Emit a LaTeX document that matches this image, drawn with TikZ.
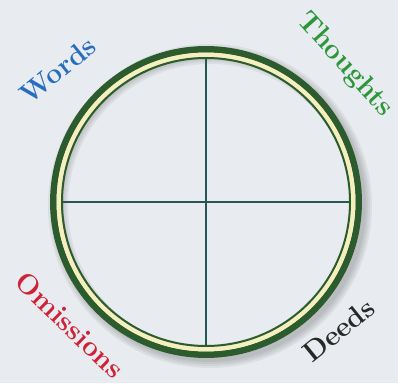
\documentclass[tikz,border=0pt]{standalone}
\usepackage{fontspec}
\usepackage{tikz}
\definecolor{verdescuro}{RGB}{44,92,46}
\definecolor{crema}{RGB}{244,239,188}
\definecolor{foglio}{RGB}{232,235,239}
\definecolor{linea}{RGB}{38,86,86}
\definecolor{blu}{RGB}{40,110,192}
\definecolor{verde}{RGB}{44,150,58}
\definecolor{rosso}{RGB}{206,34,54}
\definecolor{nero}{RGB}{40,40,40}
\tikzset{scritta/.style={inner sep=0pt,font=\bfseries\fontsize{28}{28}\selectfont}}

\begin{document}
\begin{tikzpicture}[x=1pt,y=1pt]
    % sfondo
    \fill[foglio] (0,0) rectangle (398,383);
    \useasboundingbox (0,0) rectangle (398,383);
    \coordinate (O) at (206,181);

    % ombra
    \foreach \w in {8,12,16,20}
        \draw[black,opacity=0.05,line width=\w] ([shift={(4,-4)}]O) circle (152);

    % anello
    \draw[verdescuro,line width=6.5] (O) circle (152.7);
    \draw[crema,line width=4.5] (O) circle (147.2);
    \draw[verdescuro,line width=2] (O) circle (144);

    % croce
    \draw[linea,line width=1.8] ([yshift=143]O) -- ([yshift=-143]O);
    \draw[linea,line width=1.8] ([xshift=-143]O) -- ([xshift=143]O);

    % scritte
    \node[scritta,blu,rotate=39] (words) at (58,313) {Words};
    \node[scritta,verde,rotate=-48] (thoughts) at (345,318) {Thoughts};
    \node[scritta,rosso,rotate=-44] (omissions) at (70,58) {Omissions};
    \node[scritta,nero,rotate=39] (deeds) at (339,53) {Deeds};
\end{tikzpicture}
\end{document}
